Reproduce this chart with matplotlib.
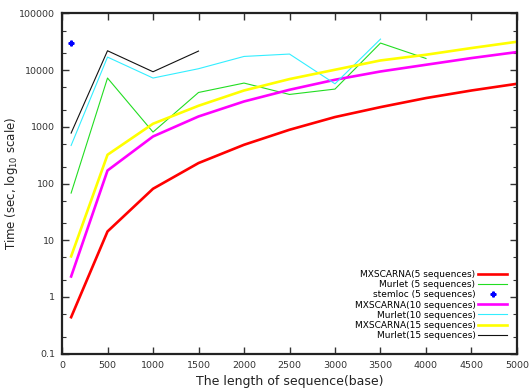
import matplotlib
matplotlib.use("Agg")
import matplotlib.pyplot as plt
from matplotlib.ticker import FixedLocator, NullFormatter

# sequence lengths (base)
length_all = [100, 500, 1000, 1500, 2000, 2500, 3000, 3500, 4000, 4500, 5000]

mxscarna_5 = [0.44, 14.3, 81, 230, 483, 889, 1490, 2230, 3220, 4380, 5750]
mxscarna_10 = [2.3, 170, 677, 1525, 2805, 4510, 6770, 9480, 12450, 16330, 20850]
mxscarna_15 = [5.2, 322, 1135, 2355, 4380, 6960, 10170, 14830, 18700, 24540, 31700]

murlet_5_len = [100, 500, 1000, 1500, 2000, 2500, 3000, 3500, 4000]
murlet_5 = [68, 7260, 810, 4040, 5920, 3730, 4640, 30060, 16070]

murlet_10_len = [100, 500, 1000, 1500, 2000, 2500, 3000, 3500]
murlet_10 = [470, 17000, 7260, 10600, 17450, 19230, 5750, 35300]

murlet_15_len = [100, 500, 1000, 1500]
murlet_15 = [777, 21980, 9370, 21700]

stemloc_len = [100]
stemloc_5 = [30000]

x_ticks = [0, 500, 1000, 1500, 2000, 2500, 3000, 3500, 4000, 4500, 5000]
y_ticks = [0.1, 1, 10, 100, 1000, 10000, 100000]
y_tick_labels = ["0.1", "1", "10", "100", "1000", "10000", "100000"]

plt.rcParams["font.family"] = ["DejaVu Sans"]

fig = plt.figure(figsize=(5.31, 3.92), dpi=100)
ax = fig.add_axes([0.1168, 0.0977, 0.8568, 0.868])

ax.plot(length_all, mxscarna_5, color="#ff0000", lw=1.9,
        label="MXSCARNA(5 sequences)")
ax.plot(murlet_5_len, murlet_5, color="#22dd22", lw=0.8,
        label="Murlet (5 sequences)")
ax.plot(stemloc_len, stemloc_5, linestyle="none", marker="P", ms=3.5,
        color="#0000ff", label="stemloc (5 sequences)")
ax.plot(length_all, mxscarna_10, color="#ff00ff", lw=1.9,
        label="MXSCARNA(10 sequences)")
ax.plot(murlet_10_len, murlet_10, color="#33eeff", lw=0.8,
        label="Murlet(10 sequences)")
ax.plot(length_all, mxscarna_15, color="#ffff00", lw=1.9,
        label="MXSCARNA(15 sequences)")
ax.plot(murlet_15_len, murlet_15, color="#111111", lw=0.8,
        label="Murlet(15 sequences)")

ax.set_yscale("log")
ax.set_xlim(0, 5000)
ax.set_ylim(0.1, 100000)
ax.set_xticks(x_ticks)
ax.yaxis.set_major_locator(FixedLocator(y_ticks))
ax.set_yticklabels(y_tick_labels)
minor = [m * d for d in [0.1, 1, 10, 100, 1000, 10000] for m in (2, 5)]
ax.yaxis.set_minor_locator(FixedLocator(minor))
ax.yaxis.set_minor_formatter(NullFormatter())

ax.tick_params(which="both", direction="in", top=True, right=True,
               labelsize=6.8, colors="#333333", labelcolor="#333333")
ax.tick_params(which="major", length=5, width=1)
ax.tick_params(which="minor", length=3, width=0.8)
ax.tick_params(axis="x", pad=5)
ax.tick_params(axis="y", pad=5)
for sp in ax.spines.values():
    sp.set_linewidth(1.6)
    sp.set_color("#222222")

ax.set_xlabel("The length of sequence(base)", fontsize=9, color="#222222")
ax.set_ylabel("Time (sec, log$_{10}$ scale)", fontsize=8.5, color="#222222")
ax.yaxis.set_label_coords(-0.092, 0.5)

leg = ax.legend(loc="lower right", bbox_to_anchor=(0.99, 0.025), frameon=False,
                markerfirst=False, fontsize=6.5, handlelength=3.2,
                labelspacing=0.12, borderaxespad=0.2, handletextpad=0.3)
for t in leg.get_texts():
    t.set_ha("right")

fig.savefig("out.png", dpi=100)
